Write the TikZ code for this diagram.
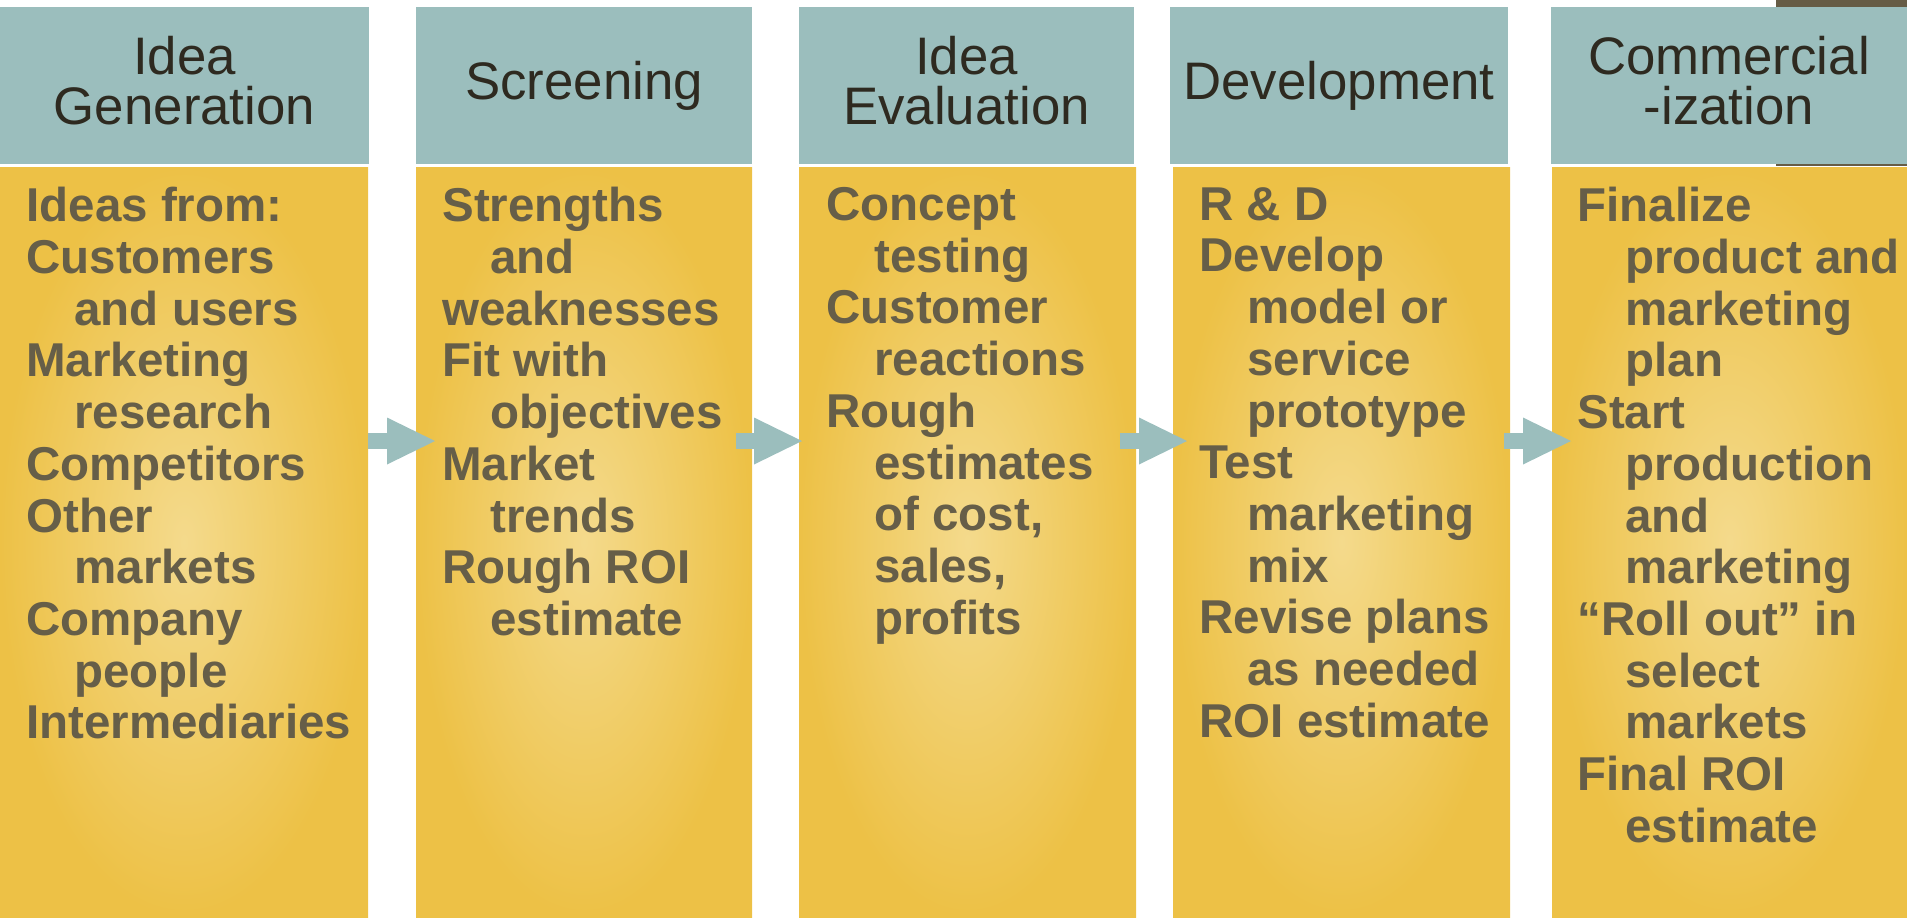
\documentclass[tikz,border=0pt]{standalone}
\usepackage{fontspec}
\setmainfont{Liberation Sans}
\usepackage{xcolor}
\usepackage{tikz}
\usetikzlibrary{arrows.meta}
\definecolor{stageteal}{RGB}{155,190,189}
\definecolor{stagegold}{RGB}{237,193,70}
\definecolor{stagelight}{RGB}{244,218,140}
\definecolor{stagetext}{RGB}{102,94,72}
\definecolor{headtext}{RGB}{46,42,32}
\definecolor{barbrown}{RGB}{102,92,69}
\newcommand{\ind}{\hspace*{24pt}}
\tikzset{
  headbox/.style={fill=stageteal, inner sep=0pt, minimum height=78.5pt, align=center,
    text=headtext, font=\fontsize{26.4pt}{25pt}\selectfont, text depth=5.5pt},
  bodybox/.style={shade, inner color=stagelight, outer color=stagegold, inner sep=0pt,
    minimum height=375pt},
  bodytext/.style={anchor=north west, inner sep=0pt, align=left, text=stagetext,
    font=\fontsize{23.75pt}{25.85pt}\selectfont\bfseries},
  flow/.style={draw=stageteal, line width=8pt,
    -{Triangle[length=24pt,width=23.5pt,line width=0pt]}}
}

\begin{document}
\begin{tikzpicture}[x=0.5pt, y=-0.5pt]
\useasboundingbox (0,0) rectangle (1907,917);

% Corner bar
\fill[barbrown] (1776,0) rectangle (1907,7);
\fill[barbrown] (1776,164) rectangle (1907,166);

% Stage headers
\node[headbox, minimum width=184.5pt] (h1) at (184.5,85.5) {Idea\\Generation};
\node[headbox, minimum width=168pt] (h2) at (584,85.5) {Screening};
\node[headbox, minimum width=167.5pt] (h3) at (966.5,85.5) {Idea\\Evaluation};
\node[headbox, minimum width=169pt] (h4) at (1339,85.5) {Development};
\node[headbox, minimum width=178pt] (h5) at (1729,85.5) {Commercial\\-ization};

% Stage bodies
\node[bodybox, minimum width=184pt] (b1) at (184,542) {};
\node[bodybox, minimum width=168pt] (b2) at (584,542) {};
\node[bodybox, minimum width=168.5pt] (b3) at (967.5,542) {};
\node[bodybox, minimum width=168.5pt] (b4) at (1341.5,542) {};
\node[bodybox, minimum width=177.5pt] (b5) at (1729.5,542) {};

% Arrows between stages
\coordinate (f1s) at (368,441);  \coordinate (f1e) at (435,441);
\coordinate (f2s) at (736,441);  \coordinate (f2e) at (802,441);
\coordinate (f3s) at (1120,441); \coordinate (f3e) at (1187,441);
\coordinate (f4s) at (1504,441); \coordinate (f4e) at (1571,441);
\draw[flow] (f1s) -- (f1e);
\draw[flow] (f2s) -- (f2e);
\draw[flow] (f3s) -- (f3e);
\draw[flow] (f4s) -- (f4e);

% Stage contents
\node[bodytext] (t1) at (26,187) {Ideas from:\\Customers\\\ind and users\\Marketing\\\ind research\\Competitors\\Other\\\ind markets\\Company\\\ind people\\Intermediaries};
\node[bodytext] (t2) at (442,187) {Strengths\\\ind and\\weaknesses\\Fit with\\\ind objectives\\Market\\\ind trends\\Rough ROI\\\ind estimate};
\node[bodytext] (t3) at (826,187) {Concept\\\ind testing\\Customer\\\ind reactions\\Rough\\\ind estimates\\\ind of cost,\\\ind sales,\\\ind profits};
\node[bodytext] (t4) at (1199,187) {R \& D\\Develop\\\ind model or\\\ind service\\\ind prototype\\Test\\\ind marketing\\\ind mix\\Revise plans\\\ind as needed\\ROI estimate};
\node[bodytext] (t5) at (1577,187) {Finalize\\\ind product and\\\ind marketing\\\ind plan\\Start\\\ind production\\\ind and\\\ind marketing\\“Roll out” in\\\ind select\\\ind markets\\Final ROI\\\ind estimate};
\end{tikzpicture}
\end{document}
